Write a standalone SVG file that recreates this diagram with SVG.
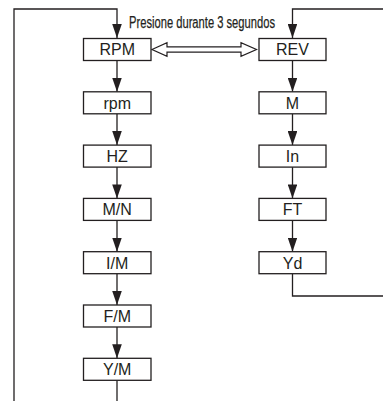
<svg xmlns="http://www.w3.org/2000/svg" width="383" height="401" viewBox="0 0 383 401">
  <defs>
    <style>
      .box { fill: #ffffff; stroke: #231f20; stroke-width: 1.3; }
      .lbl { font-family: "Liberation Sans", Arial, sans-serif; font-size: 16px; fill: #231f20; text-anchor: middle; }
      .ln { fill: none; stroke: #231f20; stroke-width: 1.3; }
      .note { font-family: "Liberation Sans", Arial, sans-serif; font-size: 16px; fill: #231f20; stroke: #231f20; stroke-width: 0.25; }
    </style>
    <marker id="ah" viewBox="0 0 14 9.6" refX="14" refY="4.8" markerWidth="14" markerHeight="9.6" markerUnits="userSpaceOnUse" orient="auto">
      <path d="M0,0 L14,4.8 L0,9.6 Z" fill="#231f20"/>
    </marker>
  </defs>
  <rect width="383" height="401" fill="#ffffff"/>

  <g id="connectors">
    <!-- loop back into RPM -->
    <polyline class="ln" points="14,401 14,9 117,9 117,38" marker-end="url(#ah)"/>
    <!-- loop back into REV -->
    <polyline class="ln" points="383,9 292.5,9 292.5,38" marker-end="url(#ah)"/>
    <!-- left column -->
    <line class="ln" x1="117" y1="60.5" x2="117" y2="91.8" marker-end="url(#ah)"/>
    <line class="ln" x1="117" y1="113.8" x2="117" y2="145.1" marker-end="url(#ah)"/>
    <line class="ln" x1="117" y1="167.1" x2="117" y2="198.4" marker-end="url(#ah)"/>
    <line class="ln" x1="117" y1="220.4" x2="117" y2="251.7" marker-end="url(#ah)"/>
    <line class="ln" x1="117" y1="273.7" x2="117" y2="305" marker-end="url(#ah)"/>
    <line class="ln" x1="117" y1="327" x2="117" y2="358.3" marker-end="url(#ah)"/>
    <line class="ln" x1="117" y1="380.3" x2="117" y2="401"/>
    <!-- right column -->
    <line class="ln" x1="292.5" y1="60.5" x2="292.5" y2="91.8" marker-end="url(#ah)"/>
    <line class="ln" x1="292.5" y1="113.8" x2="292.5" y2="145.1" marker-end="url(#ah)"/>
    <line class="ln" x1="292.5" y1="167.1" x2="292.5" y2="198.4" marker-end="url(#ah)"/>
    <line class="ln" x1="292.5" y1="220.4" x2="292.5" y2="251.7" marker-end="url(#ah)"/>
    <polyline class="ln" points="292.5,273.7 292.5,296 383,296"/>
    <!-- hollow double arrow between RPM and REV -->
    <polygon fill="#ffffff" stroke="#231f20" stroke-width="1.2" points="152,49.5 167,42.7 167,46.8 241,46.8 241,42.7 256.5,49.5 241,56.3 241,52.2 167,52.2 167,56.3"/>
  </g>

  <text class="note" x="129" y="27.5" textLength="146" lengthAdjust="spacingAndGlyphs">Presione durante 3 segundos</text>

  <g id="RPM"><rect class="box" x="83.5" y="38.5" width="67.5" height="22"/><text class="lbl" x="117.2" y="55.3">RPM</text></g>
  <g id="rpm"><rect class="box" x="83.5" y="91.8" width="67.5" height="22"/><text class="lbl" x="117.2" y="108.6">rpm</text></g>
  <g id="HZ"><rect class="box" x="83.5" y="145.1" width="67.5" height="22"/><text class="lbl" x="117.2" y="161.9">HZ</text></g>
  <g id="MN"><rect class="box" x="83.5" y="198.4" width="67.5" height="22"/><text class="lbl" x="117.2" y="215.2">M/N</text></g>
  <g id="IM"><rect class="box" x="83.5" y="251.7" width="67.5" height="22"/><text class="lbl" x="117.2" y="268.5">I/M</text></g>
  <g id="FM"><rect class="box" x="83.5" y="305" width="67.5" height="22"/><text class="lbl" x="117.2" y="321.8">F/M</text></g>
  <g id="YM"><rect class="box" x="83.5" y="358.3" width="67.5" height="22"/><text class="lbl" x="117.2" y="375.1">Y/M</text></g>

  <g id="REV"><rect class="box" x="259" y="38.5" width="67" height="22"/><text class="lbl" x="292.5" y="55.3">REV</text></g>
  <g id="M"><rect class="box" x="259" y="91.8" width="67" height="22"/><text class="lbl" x="292.5" y="108.6">M</text></g>
  <g id="In"><rect class="box" x="259" y="145.1" width="67" height="22"/><text class="lbl" x="292.5" y="161.9">In</text></g>
  <g id="FT"><rect class="box" x="259" y="198.4" width="67" height="22"/><text class="lbl" x="292.5" y="215.2">FT</text></g>
  <g id="Yd"><rect class="box" x="259" y="251.7" width="67" height="22"/><text class="lbl" x="292.5" y="268.5">Yd</text></g>
</svg>
